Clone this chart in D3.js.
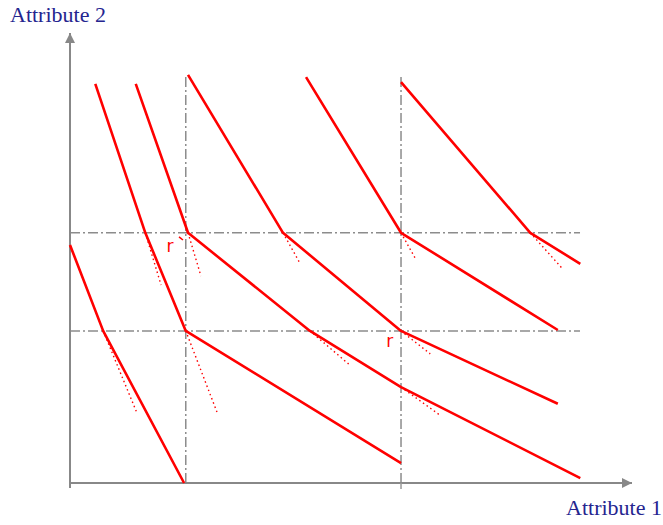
<!DOCTYPE html>
<html><head><meta charset="utf-8">
<script src="https://cdn.jsdelivr.net/npm/d3@7"></script>
<style>body{margin:0;background:#fff}</style>
</head><body>
<script>
// Indifference curves (kinked), in abstract attribute units (0-100)
const curveA = [[0,52.9],[5.9,33.8],[20.3,0]];
const curveB = [[4.5,88.7],[13.4,55.6],[20.6,33.8],[58.9,4.4]];
const curveC = [[11.7,88.7],[21.0,55.6],[42.7,33.8],[58.9,21.3],[90.8,1.1]];
const curveD = [[21.0,90.7],[37.9,55.6],[58.9,33.8],[86.8,17.6]];
const curveE = [[42.0,90.2],[58.9,55.6],[86.8,34.0]];
const curveF = [[58.9,89.1],[81.9,55.6],[90.8,48.7]];
const curves = [curveA, curveB, curveC, curveD, curveE, curveF];

// dotted extensions at kinks
const extensions = [
  [[5.9,33.8],[11.9,15.6]],
  [[13.4,55.6],[16.2,44.0]],
  [[20.6,33.8],[26.2,15.6]],
  [[21.0,55.6],[23.3,46.0]],
  [[42.7,33.8],[49.8,26.2]],
  [[58.9,21.3],[65.8,15.1]],
  [[37.9,55.6],[40.8,49.1]],
  [[58.9,33.8],[64.1,28.7]],
  [[58.9,55.6],[61.4,50.0]],
  [[81.9,55.6],[87.5,47.8]]
];

// reference levels
const refX = [20.6, 58.9];
const refXTop = [90.7, 90.2];
const refY = [55.6, 33.8];
const refYEnd = 90.75;

const rLabels = [{x:17.8, y:51.3, t:"r"}, {x:56.9, y:30.2, t:"r"}];
const tick = [[19.4,54.7],[20.1,54.0]];

const axisLabels = {x:"Attribute 1", y:"Attribute 2"};

const W = 663, H = 525;
const x = d3.scaleLinear().domain([0,100]).range([70, 632]);
const y = d3.scaleLinear().domain([0,100]).range([483, 33]);

const svg = d3.select("body").append("svg").attr("width", W).attr("height", H);

const defs = svg.append("defs");
defs.append("marker").attr("id","arr").attr("viewBox","0 0 10 10")
  .attr("refX",10).attr("refY",5).attr("markerWidth",10).attr("markerHeight",10)
  .attr("markerUnits","userSpaceOnUse").attr("orient","auto")
  .append("path").attr("d","M0,0 L10,5 L0,10 Z").attr("fill","#888");

const line = d3.line().x(d=>x(d[0])).y(d=>y(d[1]));

// reference dash-dot lines
const dd = "10,3,2,3";
refX.forEach((v,i)=>{
  svg.append("line").attr("x1",x(v)).attr("x2",x(v)).attr("y1",y(0)).attr("y2",y(refXTop[i]))
    .attr("stroke","#8c8c8c").attr("stroke-width",1.5).attr("stroke-dasharray",dd);
});
refY.forEach(v=>{
  svg.append("line").attr("x1",x(0)).attr("x2",x(refYEnd)).attr("y1",y(v)).attr("y2",y(v))
    .attr("stroke","#8c8c8c").attr("stroke-width",1.5).attr("stroke-dasharray",dd);
});

// axes
svg.append("line").attr("x1",x(0)).attr("y1",y(0)).attr("x2",x(100)).attr("y2",y(0))
  .attr("stroke","#888").attr("stroke-width",2).attr("marker-end","url(#arr)");
svg.append("line").attr("x1",x(0)).attr("y1",y(0)+5).attr("x2",x(0)).attr("y2",y(100))
  .attr("stroke","#888").attr("stroke-width",2).attr("marker-end","url(#arr)");
[x(refX[1])].forEach(px=>{
  svg.append("line").attr("x1",px).attr("x2",px).attr("y1",y(0)).attr("y2",y(0)+6)
    .attr("stroke","#999").attr("stroke-width",1.5);
});

// dotted extensions
extensions.forEach(e=>{
  svg.append("path").attr("d",line(e)).attr("fill","none")
    .attr("stroke","#ff0000").attr("stroke-width",1.4).attr("stroke-dasharray","1.5,3");
});

// curves
curves.forEach(c=>{
  svg.append("path").attr("d",line(c)).attr("fill","none")
    .attr("stroke","#ff0000").attr("stroke-width",2.6).attr("stroke-linejoin","round");
});

svg.append("path").attr("d",line(tick)).attr("stroke","#ff0000").attr("stroke-width",1.5);

rLabels.forEach(r=>{
  svg.append("text").attr("x",x(r.x)).attr("y",y(r.y)).attr("text-anchor","middle")
    .attr("font-family","DejaVu Sans").attr("font-size",17).attr("fill","#ff0000").text(r.t);
});

svg.append("text").attr("x",10).attr("y",22).attr("font-family","Liberation Serif")
  .attr("font-size",22).attr("fill","#25258f").text(axisLabels.y);
svg.append("text").attr("x",662).attr("y",515).attr("text-anchor","end").attr("font-family","Liberation Serif")
  .attr("font-size",22).attr("fill","#25258f").text(axisLabels.x);
</script>
</body></html>
